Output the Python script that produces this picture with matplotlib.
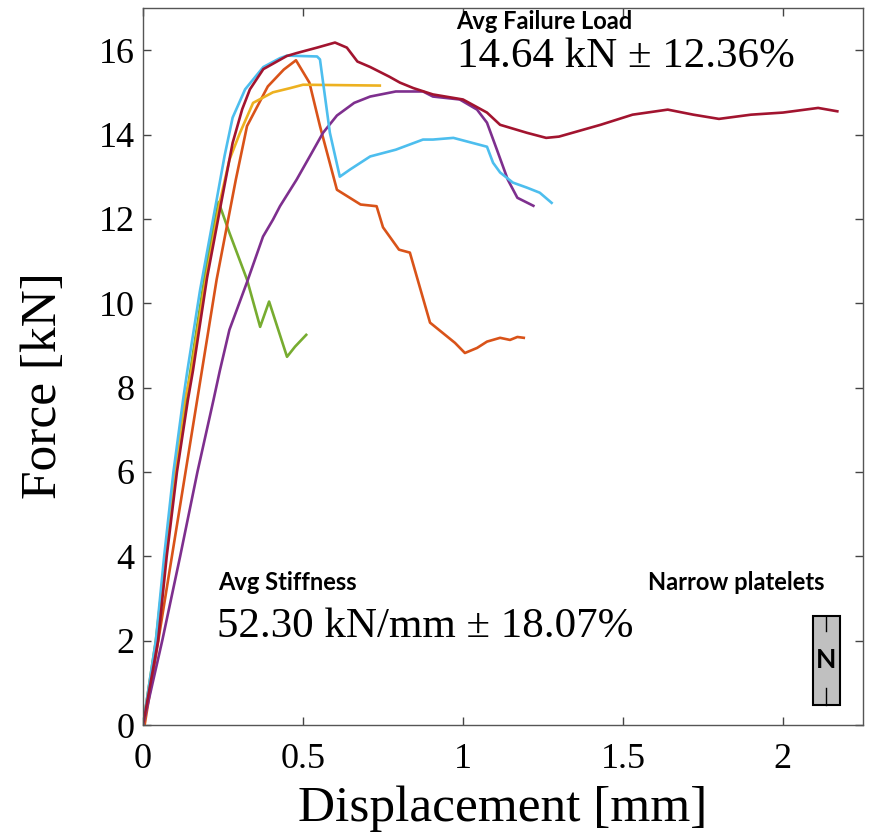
import matplotlib
matplotlib.use("Agg")
import matplotlib.pyplot as plt
from matplotlib.patches import Rectangle

# force-displacement curves
red_x = [0, 0.047, 0.074, 0.106, 0.14, 0.156, 0.2, 0.246, 0.28, 0.31, 0.334, 0.376, 0.449, 0.48,
         0.544, 0.6, 0.637, 0.67, 0.71, 0.77, 0.803, 0.845, 0.906, 1.0, 1.075, 1.116, 1.2,
         1.26, 1.30, 1.43, 1.53, 1.64, 1.72, 1.80, 1.90, 2.0, 2.11, 2.17]
red_y = [0, 2, 4, 6, 7.7, 8.4, 10.6, 12.45, 13.8, 14.6, 15.07, 15.55, 15.86, 15.93,
         16.06, 16.18, 16.06, 15.73, 15.6, 15.37, 15.23, 15.1, 14.95, 14.83, 14.52, 14.23, 14.04,
         13.92, 13.95, 14.23, 14.47, 14.59, 14.47, 14.37, 14.47, 14.52, 14.63, 14.55]

blue_x = [0, 0.04, 0.066, 0.095, 0.125, 0.1375, 0.178, 0.23, 0.255, 0.28, 0.319, 0.376, 0.428,
          0.45, 0.544, 0.553, 0.584, 0.615, 0.647, 0.71, 0.79, 0.875, 0.906, 0.97, 1.03,
          1.075, 1.094, 1.116, 1.156, 1.2, 1.24, 1.277]
blue_y = [0, 2, 4, 6, 7.7, 8.35, 10.3, 12.45, 13.5, 14.4, 15.07, 15.6, 15.81,
          15.87, 15.85, 15.78, 14.04, 13.0, 13.17, 13.48, 13.64, 13.88, 13.88, 13.92, 13.8,
          13.71, 13.33, 13.1, 12.86, 12.74, 12.62, 12.38]

yellow_x = [0, 0.042, 0.07, 0.1, 0.13, 0.15, 0.19, 0.24, 0.27, 0.303, 0.344, 0.406, 0.46, 0.5, 0.74]
yellow_y = [0, 2, 4, 6, 7.7, 8.35, 10.3, 12.4, 13.4, 14.04, 14.75, 15.0, 15.1, 15.18, 15.16]

orange_x = [0.005, 0.23, 0.29, 0.325, 0.39, 0.44, 0.478, 0.52, 0.553, 0.606, 0.68, 0.73,
            0.75, 0.80, 0.834, 0.897, 0.975, 1.006, 1.044, 1.075, 1.116, 1.147, 1.17, 1.19]
orange_y = [0, 10.56, 12.93, 14.2, 15.14, 15.54, 15.76, 15.23, 14.2, 12.69, 12.34, 12.3,
            11.8, 11.27, 11.2, 9.54, 9.06, 8.82, 8.94, 9.09, 9.18, 9.13, 9.2, 9.18]

purple_x = [0, 0.06, 0.116, 0.17, 0.22, 0.24, 0.27, 0.325, 0.375, 0.406, 0.428, 0.48,
            0.527, 0.5625, 0.606, 0.66, 0.71, 0.79, 0.875, 0.906, 0.99, 1.044, 1.075,
            1.106, 1.14, 1.17, 1.22]
purple_y = [0, 2, 4, 6, 7.7, 8.4, 9.37, 10.5, 11.58, 11.98, 12.3, 12.93,
            13.56, 14.04, 14.45, 14.75, 14.9, 15.02, 15.02, 14.9, 14.83, 14.59, 14.28,
            13.64, 12.93, 12.5, 12.31]

green_x = [0, 0.04, 0.07, 0.1, 0.15, 0.2, 0.236, 0.27, 0.325, 0.366, 0.394, 0.45, 0.475, 0.51]
green_y = [0, 2, 4, 6, 8.5, 11.0, 12.4, 11.67, 10.56, 9.44, 10.04, 8.73, 8.97, 9.25]

x_ticks = [0, 0.5, 1, 1.5, 2]
x_tick_labels = ["0", "0.5", "1", "1.5", "2"]
y_ticks = [0, 2, 4, 6, 8, 10, 12, 14, 16]

serif = "Liberation Serif"
sans = "Lato"

fig = plt.figure(figsize=(8.69, 8.38), dpi=100)
ax = fig.add_axes([0.1646, 0.1348, 0.8284, 0.8557])

lw = 1.9
ax.plot(green_x, green_y, color="#77AC30", lw=lw)
ax.plot(orange_x, orange_y, color="#D95319", lw=lw)
ax.plot(yellow_x, yellow_y, color="#EDB120", lw=lw)
ax.plot(purple_x, purple_y, color="#7E2F8E", lw=lw)
ax.plot(blue_x, blue_y, color="#4DBEEE", lw=lw)
ax.plot(red_x, red_y, color="#A2142F", lw=lw)

ax.set_xlim(0, 2.25)
ax.set_ylim(0, 17)
ax.set_xticks(x_ticks)
ax.set_xticklabels(x_tick_labels)
ax.set_yticks(y_ticks)
ax.tick_params(direction="in", top=True, right=True, length=6, width=1,
               color="#444444", labelsize=26, pad=6)
ax.tick_params(axis="x", pad=13)
for lab in ax.get_xticklabels() + ax.get_yticklabels():
    lab.set_fontfamily(serif)
for s in ax.spines.values():
    s.set_color("#555555")
    s.set_linewidth(1.0)

ax.set_xlabel("Displacement [mm]", fontsize=37, family=serif)
ax.set_ylabel("Force [kN]", fontsize=37, family=serif)
ax.xaxis.set_label_coords(0.5, -0.085)
ax.yaxis.set_label_coords(-0.106, 0.474)

# annotations
ax.text(0.98, 16.49, "Avg Failure Load", family=sans, weight="bold", fontsize=17)
ax.text(0.98, 15.59, "14.64 kN \u00b1 12.36%", family=serif, fontsize=31)
ax.text(0.234, 3.2, "Avg Stiffness", family=sans, weight="bold", fontsize=17)
ax.text(0.231, 2.09, "52.30 kN/mm \u00b1 18.07%", family=serif, fontsize=31)
ax.text(1.578, 3.2, "Narrow platelets", family=sans, weight="bold", fontsize=17)

# small platelet symbol
ax.add_patch(Rectangle((2.094, 0.47), 0.084, 2.12, facecolor="#c0c0c0",
                       edgecolor="black", lw=1.5, zorder=5))
ax.plot([2.136, 2.136], [2.59, 2.23], color="black", lw=1, zorder=6)
ax.plot([2.136, 2.136], [0.87, 0.47], color="black", lw=1, zorder=6)
ax.text(2.136, 1.54, "N", family=sans, weight="bold", fontsize=19,
        ha="center", va="center", zorder=7)

fig.savefig("out.png", dpi=100)
